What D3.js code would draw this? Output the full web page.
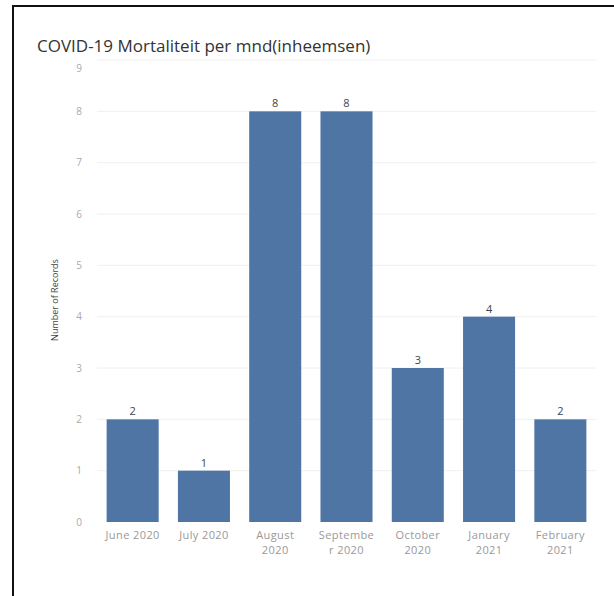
<!DOCTYPE html>
<html>
<head>
<meta charset="utf-8">
<script src="https://cdn.jsdelivr.net/npm/d3@7"></script>
<style>
  body { margin: 0; background: #fff; }
  svg { display: block; font-family: "Open Sans", sans-serif; }
</style>
</head>
<body>
<svg id="chart" width="614" height="596"></svg>
<script>
var months = ["June 2020", "July 2020", "August 2020", "September 2020", "October 2020", "January 2021", "February 2021"];
var monthLines = [["June 2020"], ["July 2020"], ["August", "2020"], ["Septembe", "r 2020"], ["October", "2020"], ["January", "2021"], ["February", "2021"]];
var records = [2, 1, 8, 8, 3, 4, 2];
var yTicks = [0, 1, 2, 3, 4, 5, 6, 7, 8, 9];

var svg = d3.select("#chart");

// frame round the sheet
svg.append("path")
  .attr("d", "M13,600V6H616")
  .attr("fill", "none")
  .attr("stroke", "#111")
  .attr("stroke-width", 2);

svg.append("text")
  .attr("x", 37)
  .attr("y", 52)
  .attr("font-size", 17)
  .attr("fill", "#333")
  .text("COVID-19 Mortaliteit per mnd(inheemsen)");

var x = d3.scaleBand()
  .domain(months)
  .range([97, 596])
  .paddingInner(0.27)
  .paddingOuter(0.135);

var y = d3.scaleLinear()
  .domain([0, 9])
  .range([522, 60]);

var g = svg.append("g");

// gridlines
g.selectAll(".grid")
  .data(yTicks.slice(1))
  .enter().append("line")
  .attr("x1", 97)
  .attr("x2", 596)
  .attr("y1", function(d) { return y(d); })
  .attr("y2", function(d) { return y(d); })
  .attr("stroke", "#f0f0f0");

var yAxis = g.append("g")
  .attr("transform", "translate(88,0)")
  .call(d3.axisLeft(y).tickValues(yTicks).tickSize(0).tickPadding(6));
yAxis.select(".domain").remove();
yAxis.selectAll("text")
  .attr("font-family", "Open Sans, sans-serif")
  .attr("font-size", 10)
  .attr("fill", "#aaa");
// top label sits inside the pane, as Tableau does
yAxis.selectAll(".tick").filter(function(d) { return d === 9; })
  .select("text").attr("dy", "1.1em");

svg.append("text")
  .attr("transform", "translate(58,300) rotate(-90)")
  .attr("text-anchor", "middle")
  .attr("font-size", 9)
  .attr("fill", "#444")
  .text("Number of Records");

g.selectAll(".bar")
  .data(records)
  .enter().append("rect")
  .attr("x", function(d, i) { return x(months[i]); })
  .attr("width", x.bandwidth())
  .attr("y", function(d) { return y(d); })
  .attr("height", function(d) { return y(0) - y(d); })
  .attr("fill", "#4e75a4");

g.selectAll(".val")
  .data(records)
  .enter().append("text")
  .attr("x", function(d, i) { return x(months[i]) + x.bandwidth() / 2; })
  .attr("y", function(d) { return y(d) - 4; })
  .attr("text-anchor", "middle")
  .attr("font-size", 11)
  .attr("fill", "#444")
  .text(function(d) { return d; });

var xl = g.selectAll(".xl")
  .data(monthLines)
  .enter().append("text")
  .attr("text-anchor", "middle")
  .attr("font-size", 11)
  .attr("letter-spacing", 0.4)
  .attr("fill", "#999")
  .attr("transform", function(d, i) { return "translate(" + (x(months[i]) + x.bandwidth() / 2) + ",539)"; });
xl.selectAll("tspan")
  .data(function(d) { return d; })
  .enter().append("tspan")
  .attr("x", 0)
  .attr("dy", function(d, i) { return i ? 15 : 0; })
  .text(function(d) { return d; });
</script>
</body>
</html>
